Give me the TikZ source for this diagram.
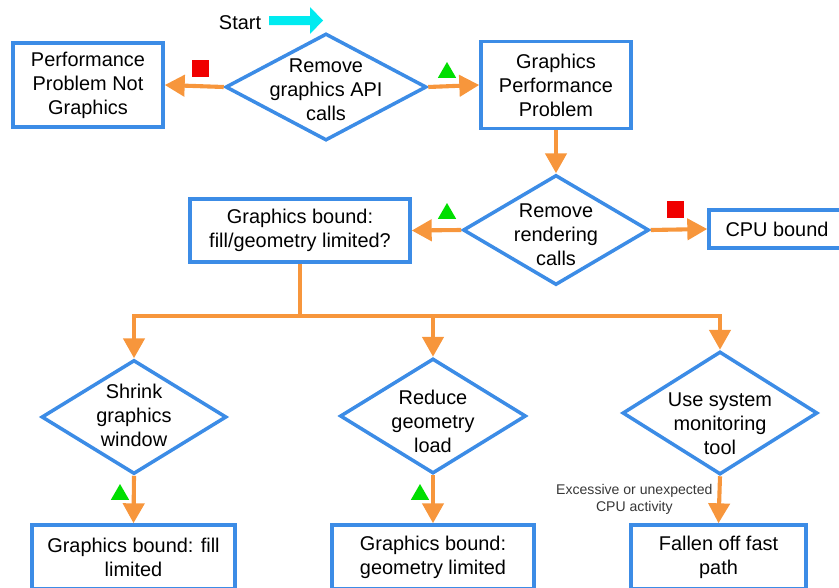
\documentclass[tikz,border=0pt]{standalone}
\usepackage{fontspec}
\setmainfont{Liberation Sans}
\usepackage{xcolor}
\usetikzlibrary{shapes.geometric,arrows.meta}
\definecolor{boxblue}{RGB}{60,140,230}
\definecolor{arrowor}{RGB}{247,150,60}
\definecolor{stopred}{RGB}{240,0,0}
\definecolor{gogreen}{RGB}{0,222,0}
\definecolor{startcyan}{RGB}{0,235,240}
\definecolor{notegray}{RGB}{55,55,55}

\begin{document}
\begin{tikzpicture}[x=0.03cm,y=-0.03cm,
	box/.style={draw=boxblue,line width=3pt,fill=white,align=center,inner sep=2pt,font=\fontsize{17}{20.5}\selectfont},
	dia/.style={diamond,draw=boxblue,line width=3pt,fill=white,inner sep=0pt},
	dtext/.style={align=center,inner sep=0pt,font=\fontsize{17}{20.5}\selectfont},
	note/.style={align=center,inner sep=1pt,text=notegray,font=\fontsize{12}{14.5}\selectfont},
	link/.style={draw=arrowor,line width=3.5pt},
	arrow/.style={link,-{Triangle[length=17pt,width=18pt]}},
	stopmark/.style={fill=stopred,minimum size=0.51cm,inner sep=0pt},
	gomark/.style={regular polygon,regular polygon sides=3,fill=gogreen,minimum size=0.63cm,inner sep=0pt}]
	\clip (0,0) rectangle (839,588);
	% Start
	\node[dtext] (start) at (240,23) {Start};
	\fill[startcyan] (269,16) -- (310,16) -- (310,7) -- (323,20.5) -- (310,34) -- (310,25) -- (269,25) -- cycle;
	% Top row
	\node[box,minimum width=4.5cm,minimum height=2.52cm] (pnot) at (88,85) {Performance\\Problem Not\\Graphics};
	\node[dia,minimum width=6.03cm,minimum height=3.21cm,label={[dtext,name=d1t,yshift=-0.09cm]center:Remove\\graphics API\\calls}] (d1) at (326,87) {};
	\node[box,minimum width=4.5cm,minimum height=2.61cm] (gpp) at (556,85) {Graphics\\Performance\\Problem};
	% Second row
	\node[dia,minimum width=5.58cm,minimum height=3.3cm,label={[dtext,name=d2t,yshift=-0.15cm]center:Remove\\rendering\\calls}] (d2) at (556,230) {};
	\node[box,minimum width=6.6cm,minimum height=1.89cm] (gbq) at (300,230.5) {Graphics bound:\\fill/geometry limited?};
	\node[box,minimum width=4.08cm,minimum height=1.14cm] (cpu) at (777,229) {CPU bound};
	% Third row
	\node[dia,minimum width=5.55cm,minimum height=3.42cm,label={[dtext,name=d3t,yshift=0.06cm]center:Shrink\\graphics\\window}] (d3) at (134,417) {};
	\node[dia,minimum width=5.58cm,minimum height=3.45cm,label={[dtext,name=d4t,yshift=-0.15cm]center:Reduce\\geometry\\load}] (d4) at (433,416) {};
	\node[dia,minimum width=5.85cm,minimum height=3.69cm,label={[dtext,name=d5t,yshift=-0.33cm]center:Use system\\monitoring\\tool}] (d5) at (720,413) {};
	% Bottom row
	\node[box,minimum width=6.09cm,minimum height=1.92cm] (b1) at (133.5,557) {Graphics bound: fill\\limited};
	\node[box,minimum width=6.06cm,minimum height=1.92cm] (b2) at (433,557) {Graphics bound:\\geometry limited};
	\node[box,minimum width=5.25cm,minimum height=1.92cm] (b3) at (718.5,557) {Fallen off fast\\path};
	% Connectors
	\draw[arrow] (d1.west) -- (pnot.east);
	\draw[arrow] (d1.east) -- (gpp.west);
	\draw[arrow] (gpp.south) -- (d2.north);
	\draw[arrow] (d2.west) -- (gbq.east);
	\draw[arrow] (d2.east) -- (cpu.west);
	\coordinate (bus) at (0,316);
	\draw[link] (gbq.south) -- (gbq.south |- bus);
	\draw[link,line cap=rect] (d3.north |- bus) -- (d5.north |- bus);
	\foreach \d in {d3,d4,d5}
	\draw[arrow] (\d.north |- bus) -- (\d.north);
	\draw[arrow] (d3.south) -- (b1.north);
	\draw[arrow] (d4.south) -- (b2.north);
	\draw[arrow] (d5.south) -- (b3.north) node[note,midway,left=3pt] (cpunote) {Excessive or unexpected\\CPU activity};
	% Markers
	\node[stopmark] (r1) at (200,68) {};
	\node[gomark] (g1) at (447,72.5) {};
	\node[gomark] (g2) at (447,213.5) {};
	\node[stopmark] (r2) at (675,209) {};
	\node[gomark] (g3) at (120,494.5) {};
	\node[gomark] (g4) at (420,494.5) {};
\end{tikzpicture}
\end{document}
